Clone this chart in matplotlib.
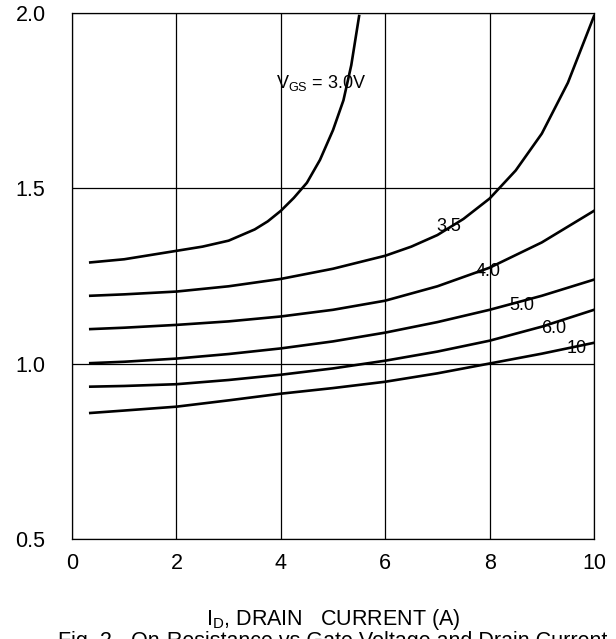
import matplotlib.pyplot as plt

plt.rcParams["font.family"] = ["Liberation Sans", "DejaVu Sans"]
plt.rcParams["mathtext.default"] = "regular"

# drain current (A) vs normalised on-resistance
x_common = [0.35, 1, 2, 3, 4, 5, 6, 7, 8, 9, 10]
r_10 = [0.859, 0.866, 0.877, 0.895, 0.914, 0.930, 0.948, 0.972, 1.000, 1.028, 1.059]
r_60 = [0.934, 0.936, 0.941, 0.953, 0.968, 0.986, 1.008, 1.034, 1.065, 1.105, 1.153]
r_50 = [1.001, 1.005, 1.014, 1.027, 1.043, 1.063, 1.088, 1.118, 1.153, 1.193, 1.239]
r_40 = [1.098, 1.102, 1.110, 1.120, 1.134, 1.153, 1.179, 1.220, 1.273, 1.345, 1.435]

x_35 = [0.35, 1, 2, 3, 4, 5, 6, 6.5, 7, 7.5, 8, 8.5, 9, 9.5, 10]
r_35 = [1.193, 1.197, 1.205, 1.220, 1.241, 1.270, 1.307, 1.333, 1.366, 1.412,
        1.47, 1.55, 1.655, 1.80, 1.99]

x_30 = [0.35, 1, 2, 2.5, 3, 3.5, 3.75, 4, 4.25, 4.5, 4.75, 5, 5.2, 5.35, 5.5]
r_30 = [1.288, 1.297, 1.321, 1.333, 1.350, 1.382, 1.405, 1.435, 1.472, 1.515,
        1.58, 1.665, 1.75, 1.85, 1.99]

curve_labels = ["3.5", "4.0", "5.0", "6.0", "10"]
label_x = [7.22, 7.97, 8.62, 9.22, 9.67]
label_y = [1.39, 1.262, 1.164, 1.10, 1.043]

x_ticks = [0, 2, 4, 6, 8, 10]
y_ticks = [0.5, 1.0, 1.5, 2.0]

fig = plt.figure(figsize=(6.16, 6.39), dpi=100)
ax = fig.add_axes([0.1169, 0.1565, 0.8474, 0.8239])

for xs, ys in [(x_30, r_30), (x_35, r_35), (x_common, r_40),
               (x_common, r_50), (x_common, r_60), (x_common, r_10)]:
    ax.plot(xs, ys, color="black", linewidth=1.9, solid_joinstyle="round", zorder=3)

for txt, lx, ly in zip(curve_labels, label_x, label_y):
    ax.text(lx, ly, txt, fontsize=13, ha="center", va="center", zorder=4)
ax.text(3.91, 1.785, r"V$_{GS}$ = 3.0V", fontsize=13, ha="left", va="baseline", zorder=4)

ax.set_xlim(0, 10)
ax.set_ylim(0.5, 2.0)
ax.set_xticks(x_ticks)
ax.set_xticklabels([str(v) for v in x_ticks])
ax.set_yticks(y_ticks)
ax.set_yticklabels([f"{v:.1f}" for v in y_ticks])
ax.tick_params(axis="both", length=0, labelsize=15.5)
ax.tick_params(axis="x", pad=10)
ax.tick_params(axis="y", pad=19)
ax.grid(True, color="black", linewidth=0.9)
for s in ax.spines.values():
    s.set_linewidth(0.9)

fig.text(0.5405, 0.0219, r"I$_D$, DRAIN   CURRENT (A)", fontsize=15.5,
         ha="center", va="baseline")
# caption sits partly below the bottom edge, as in the reference
fig.text(0.5405, -0.0130, "Fig. 2 - On-Resistance vs Gate Voltage and Drain Current",
         fontsize=15.5, ha="center", va="baseline")

fig.savefig("out.png", dpi=100)
